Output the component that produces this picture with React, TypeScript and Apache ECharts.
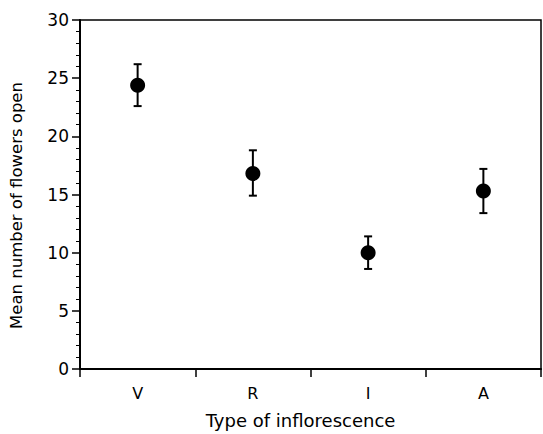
import React, { useEffect, useRef } from "react";
import * as echarts from "echarts";

const categories = ["V", "R", "I", "A"];
const means = [24.4, 16.8, 10.0, 15.3];
const lowers = [22.6, 14.9, 8.6, 13.4];
const uppers = [26.2, 18.8, 11.4, 17.2];
const yTicks = { min: 0, max: 30, interval: 5 };

const FONT = "DejaVu Sans";

export default function App() {
  const ref = useRef<HTMLDivElement>(null);
  useEffect(() => {
    if (!ref.current) return;
    const chart = echarts.init(ref.current, undefined, { renderer: "svg" });
    const errData = categories.map((_, i) => [i, lowers[i], uppers[i]]);
    chart.setOption({
      animation: false,
      backgroundColor: "#fff",
      grid: {
        left: 80,
        right: 2,
        top: 20,
        bottom: 64,
        show: true,
        borderColor: "#000",
        borderWidth: 1.5,
      },
      xAxis: {
        type: "category",
        data: categories,
        boundaryGap: true,
        name: "Type of inflorescence",
        nameLocation: "middle",
        nameGap: 51,
        nameTextStyle: {
          fontFamily: FONT,
          fontSize: 18,
          color: "#000",
          verticalAlign: "middle",
          padding: [0, 20, 0, 0],
        },
        axisLine: { show: true, lineStyle: { color: "#000", width: 2 } },
        axisTick: { show: true, inside: false, length: 8, alignWithLabel: false, lineStyle: { color: "#000", width: 1.5 } },
        axisLabel: { fontFamily: FONT, fontSize: 16, color: "#000", margin: 16 },
        splitLine: { show: false },
      },
      yAxis: {
        type: "value",
        min: yTicks.min,
        max: yTicks.max,
        interval: yTicks.interval,
        name: "Mean number of flowers open",
        nameLocation: "middle",
        nameGap: 55,
        nameTextStyle: {
          fontFamily: FONT,
          fontSize: 16.5,
          color: "#000",
          padding: [0, 22, 0, 0],
        },
        axisLine: { show: true, lineStyle: { color: "#000", width: 2 } },
        axisTick: { show: true, inside: false, length: 8, lineStyle: { color: "#000", width: 1.5 } },
        minorTick: { show: true, splitNumber: 5, length: 4, lineStyle: { color: "#000", width: 1 } },
        axisLabel: { fontFamily: FONT, fontSize: 17, color: "#000", margin: 11 },
        splitLine: { show: false },
        minorSplitLine: { show: false },
      },
      series: [
        {
          type: "custom",
          data: errData,
          z: 2,
          renderItem: (params: any, api: any) => {
            const x = api.value(0);
            const lo = api.coord([x, api.value(1)]);
            const hi = api.coord([x, api.value(2)]);
            const cap = 4;
            const style = { stroke: "#000", lineWidth: 2 };
            return {
              type: "group",
              children: [
                { type: "line", shape: { x1: lo[0], y1: lo[1], x2: hi[0], y2: hi[1] }, style },
                { type: "line", shape: { x1: lo[0] - cap, y1: lo[1], x2: lo[0] + cap, y2: lo[1] }, style },
                { type: "line", shape: { x1: hi[0] - cap, y1: hi[1], x2: hi[0] + cap, y2: hi[1] }, style },
              ],
            };
          },
        },
        {
          type: "scatter",
          data: means,
          symbol: "circle",
          symbolSize: 15,
          itemStyle: { color: "#000", opacity: 1 },
          z: 3,
        },
      ],
    });
    return () => chart.dispose();
  }, []);
  return (
    <div
      ref={ref}
      style={{ position: "absolute", left: 0, top: 0, width: 543, height: 434 }}
    />
  );
}
